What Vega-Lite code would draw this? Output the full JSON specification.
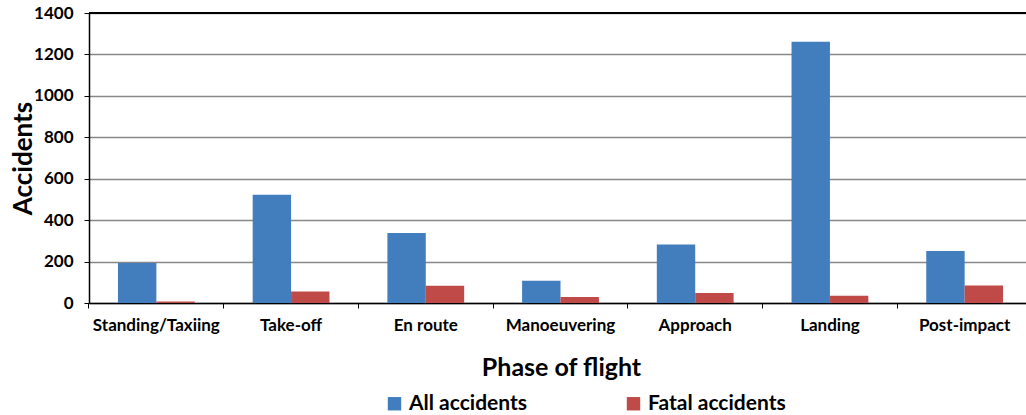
{
  "$schema": "https://vega.github.io/schema/vega-lite/v6.json",
  "autosize": {"type": "none"},
  "width": 937,
  "height": 290,
  "padding": {"left": 89, "top": 13, "right": 0, "bottom": 112},
  "background": "white",
  "config": {
    "view": {"stroke": null},
    "font": "Lato",
    "axis": {"labelFont": "Lato", "titleFont": "Lato", "labelFontWeight": "bold", "titleFontWeight": "bold", "labelColor": "black", "titleColor": "black"}
  },
  "data": {"values": [
    {"phase": "Standing/Taxiing", "series": "All accidents", "value": 193},
    {"phase": "Standing/Taxiing", "series": "Fatal accidents", "value": 7},
    {"phase": "Take-off", "series": "All accidents", "value": 522},
    {"phase": "Take-off", "series": "Fatal accidents", "value": 55},
    {"phase": "En route", "series": "All accidents", "value": 338},
    {"phase": "En route", "series": "Fatal accidents", "value": 83},
    {"phase": "Manoeuvering", "series": "All accidents", "value": 108},
    {"phase": "Manoeuvering", "series": "Fatal accidents", "value": 29},
    {"phase": "Approach", "series": "All accidents", "value": 282},
    {"phase": "Approach", "series": "Fatal accidents", "value": 48},
    {"phase": "Landing", "series": "All accidents", "value": 1261},
    {"phase": "Landing", "series": "Fatal accidents", "value": 35},
    {"phase": "Post-impact", "series": "All accidents", "value": 251},
    {"phase": "Post-impact", "series": "Fatal accidents", "value": 84}
  ]},
  "resolve": {"axis": {"x": "independent"}},
  "layer": [
    {
      "mark": {"type": "bar"},
      "encoding": {
        "x": {
          "field": "phase", "type": "nominal", "sort": null,
          "scale": {"range": [0, 943], "paddingInner": 0.43, "paddingOuter": 0.215},
          "axis": {"orient": "bottom", "title": null, "labels": false, "ticks": true, "bandPosition": -0.3772, "tickSize": 5, "tickColor": "black", "tickWidth": 1, "domainColor": "black", "domainWidth": 1.5, "grid": false}
        },
        "xOffset": {"field": "series", "type": "nominal", "sort": ["All accidents", "Fatal accidents"]},
        "y": {
          "field": "value", "type": "quantitative",
          "scale": {"domain": [0, 1400], "nice": false},
          "axis": {
            "title": "Accidents", "values": [0, 200, 400, 600, 800, 1000, 1200, 1400], "format": "d",
            "labelFontSize": 17, "labelPadding": 11, "tickSize": 5, "tickColor": "black", "tickWidth": 1,
            "domainColor": "black", "domainWidth": 1.5,
            "grid": true, "gridColor": "#888888", "gridWidth": 1.5,
            "titleFontSize": 26, "titleAngle": -90, "titleX": -66, "titleY": 145, "titleAlign": "center", "titleBaseline": "middle"
          }
        },
        "color": {
          "field": "series", "type": "nominal",
          "scale": {"domain": ["All accidents", "Fatal accidents"], "range": ["#427DBD", "#BF4A47"]},
          "legend": {
            "title": null, "orient": "none", "legendX": 295, "legendY": 380, "direction": "horizontal",
            "symbolType": "square", "symbolSize": 180, "symbolStrokeWidth": 0, "symbolOpacity": 1,
            "labelFont": "Lato", "labelFontSize": 21, "labelFontWeight": "bold", "labelColor": "black",
            "labelOffset": 4, "columnPadding": 95
          }
        }
      }
    },
    {
      "mark": {"type": "tick", "opacity": 0},
      "encoding": {
        "x": {
          "field": "phase", "type": "nominal", "sort": null,
          "axis": {
            "orient": "bottom",
            "title": "Phase of flight", "ticks": false, "domain": false, "labelAngle": 0,
            "labelFontSize": 17, "labelPadding": 14,
            "titleFontSize": 25, "titleX": 472, "titleY": 72, "titleBaseline": "alphabetic", "titleAlign": "center"
          }
        },
        "y": {"datum": 0}
      }
    },
    {
      "mark": {"type": "rule", "color": "black", "strokeWidth": 1.5},
      "encoding": {"y": {"datum": 1400}}
    }
  ]
}
